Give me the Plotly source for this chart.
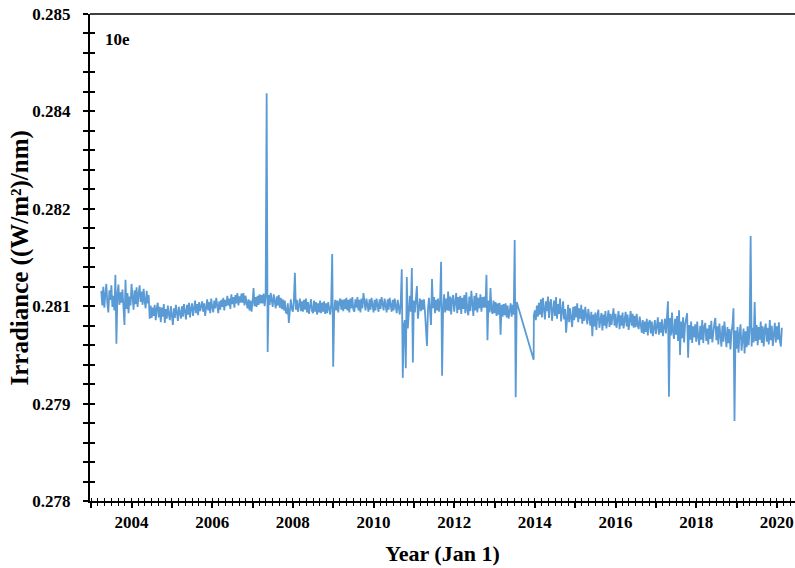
import numpy as np
import plotly.graph_objects as go

# Spectral irradiance at one wavelength, sampled every 0.025 yr (about 9 days)
SAMPLE_STEP = 0.025

# Run 1: 2003.25 .. 2013.55
run1_start = 2003.25
run1_irr = [
    0.28102, 0.28081, 0.28108, 0.28078, 0.28097, 0.28112, 0.28084, 0.28071, 0.28103, 0.28089,
    0.28110, 0.28079, 0.28095, 0.28074, 0.28125, 0.28026, 0.28098, 0.28111, 0.28082, 0.28100,
    0.28085, 0.28104, 0.28078, 0.28053, 0.28118, 0.28076, 0.28099, 0.28070, 0.28094, 0.28081,
    0.28112, 0.28088, 0.28075, 0.28103, 0.28083, 0.28107, 0.28079, 0.28097, 0.28110, 0.28086,
    0.28101, 0.28082, 0.28105, 0.28087, 0.28077, 0.28102, 0.28084, 0.28096, 0.28062, 0.28081,
    0.28063, 0.28078, 0.28066, 0.28082, 0.28060, 0.28077, 0.28085, 0.28064, 0.28079, 0.28057,
    0.28078, 0.28065, 0.28083, 0.28056, 0.28076, 0.28062, 0.28081, 0.28068, 0.28060, 0.28080,
    0.28064, 0.28053, 0.28077, 0.28063, 0.28082, 0.28067, 0.28059, 0.28079, 0.28069, 0.28062,
    0.28080, 0.28065, 0.28083, 0.28070, 0.28061, 0.28082, 0.28068, 0.28085, 0.28064, 0.28077,
    0.28084, 0.28066, 0.28080, 0.28088, 0.28070, 0.28083, 0.28067, 0.28086, 0.28073, 0.28082,
    0.28087, 0.28072, 0.28084, 0.28066, 0.28078, 0.28090, 0.28074, 0.28086, 0.28070, 0.28091,
    0.28079, 0.28071, 0.28088, 0.28077, 0.28092, 0.28080, 0.28070, 0.28087, 0.28075, 0.28089,
    0.28079, 0.28092, 0.28074, 0.28089, 0.28080, 0.28095, 0.28081, 0.28091, 0.28076, 0.28097,
    0.28083, 0.28093, 0.28078, 0.28096, 0.28084, 0.28099, 0.28081, 0.28094, 0.28085, 0.28098,
    0.28085, 0.28099, 0.28081, 0.28095, 0.28086, 0.28077, 0.28090, 0.28074, 0.28088, 0.28072,
    0.28086, 0.28106, 0.28080, 0.28093, 0.28079, 0.28095, 0.28082, 0.28097, 0.28084, 0.28096,
    0.28084, 0.28098, 0.28080, 0.28094, 0.28386, 0.28014, 0.28096, 0.28082, 0.28099, 0.28086,
    0.28079, 0.28097, 0.28085, 0.28077, 0.28094, 0.28081, 0.28096, 0.28078, 0.28092, 0.28076,
    0.28090, 0.28074, 0.28088, 0.28071, 0.28070, 0.28084, 0.28056, 0.28082, 0.28090, 0.28076,
    0.28072, 0.28088, 0.28128, 0.28075, 0.28089, 0.28072, 0.28086, 0.28091, 0.28073, 0.28087,
    0.28072, 0.28089, 0.28075, 0.28091, 0.28071, 0.28086, 0.28069, 0.28085, 0.28090, 0.28073,
    0.28070, 0.28088, 0.28072, 0.28086, 0.28068, 0.28084, 0.28071, 0.28088, 0.28070, 0.28085,
    0.28072, 0.28087, 0.28069, 0.28084, 0.28070, 0.28086, 0.28072, 0.28068, 0.28083, 0.28155,
    0.27993, 0.28073, 0.28089, 0.28074, 0.28088, 0.28071, 0.28086, 0.28091, 0.28075, 0.28089,
    0.28073, 0.28090, 0.28076, 0.28092, 0.28074, 0.28089, 0.28071, 0.28091, 0.28077, 0.28093,
    0.28075, 0.28072, 0.28090, 0.28078, 0.28093, 0.28074, 0.28089, 0.28071, 0.28091, 0.28077,
    0.28099, 0.28089, 0.28074, 0.28091, 0.28077, 0.28072, 0.28090, 0.28075, 0.28092, 0.28078,
    0.28071, 0.28089, 0.28074, 0.28091, 0.28077, 0.28072, 0.28090, 0.28076, 0.28093, 0.28078,
    0.28074, 0.28091, 0.28077, 0.28071, 0.28090, 0.28075, 0.28092, 0.28078, 0.28072, 0.28089,
    0.28074, 0.28091, 0.28077, 0.28070, 0.28089, 0.28074, 0.28068, 0.28086, 0.28133, 0.27977,
    0.28052, 0.28060, 0.27991, 0.28122, 0.28048, 0.28071, 0.28095, 0.28072, 0.28135, 0.27999,
    0.28088, 0.28071, 0.28090, 0.28109, 0.28062, 0.28076, 0.28091, 0.28073, 0.28089, 0.28075,
    0.28090, 0.28072, 0.28049, 0.28023, 0.28076, 0.28092, 0.28073, 0.28053, 0.28119, 0.28077,
    0.28093, 0.28070, 0.28089, 0.28074, 0.28091, 0.28072, 0.28088, 0.28144, 0.27980, 0.28076,
    0.28097, 0.28071, 0.28091, 0.28074, 0.28101, 0.28073, 0.28094, 0.28068, 0.28090, 0.28096,
    0.28072, 0.28089, 0.28099, 0.28070, 0.28093, 0.28075, 0.28095, 0.28069, 0.28092, 0.28076,
    0.28096, 0.28070, 0.28100, 0.28075, 0.28067, 0.28094, 0.28073, 0.28102, 0.28079, 0.28066,
    0.28095, 0.28074, 0.28099, 0.28071, 0.28092, 0.28077, 0.28097, 0.28072, 0.28093, 0.28078,
    0.28094, 0.28078, 0.28125, 0.28031, 0.28088, 0.28071, 0.28106, 0.28074, 0.28069, 0.28088,
    0.28070, 0.28086, 0.28066, 0.28084, 0.28068, 0.28085, 0.28039, 0.28082, 0.28065, 0.28083,
    0.28067, 0.28084, 0.28064, 0.28081, 0.28062, 0.28079, 0.28084, 0.28065, 0.28082, 0.28068,
    0.28175, 0.27949, 0.28086,
]

# Lone sample inside the late-2013 data gap
gap_year = [2013.97]
gap_irr = [0.28003]

# Run 2: 2013.975 .. 2020.125
run2_start = 2013.975
run2_irr = [
    0.28067, 0.28074, 0.28060, 0.28081, 0.28065, 0.28085, 0.28068, 0.28090, 0.28064, 0.28092,
    0.28071, 0.28061, 0.28087, 0.28073, 0.28094, 0.28063, 0.28084, 0.28090, 0.28059, 0.28080,
    0.28088, 0.28066, 0.28093, 0.28062, 0.28083, 0.28069, 0.28091, 0.28058, 0.28079, 0.28087,
    0.28061, 0.28076, 0.28042, 0.28066, 0.28082, 0.28057, 0.28077, 0.28063, 0.28050, 0.28079,
    0.28060, 0.28080, 0.28064, 0.28084, 0.28057, 0.28077, 0.28062, 0.28082, 0.28055, 0.28075,
    0.28059, 0.28079, 0.28063, 0.28054, 0.28076, 0.28058, 0.28052, 0.28072, 0.28037, 0.28068,
    0.28051, 0.28071, 0.28046, 0.28067, 0.28075, 0.28049, 0.28064, 0.28070, 0.28045, 0.28068,
    0.28052, 0.28073, 0.28048, 0.28066, 0.28074, 0.28050, 0.28069, 0.28053, 0.28072, 0.28077,
    0.28052, 0.28069, 0.28049, 0.28066, 0.28073, 0.28047, 0.28067, 0.28052, 0.28071, 0.28048,
    0.28065, 0.28072, 0.28051, 0.28068, 0.28046, 0.28066, 0.28073, 0.28052, 0.28069, 0.28049,
    0.28066, 0.28050, 0.28069, 0.28053, 0.28047, 0.28065, 0.28050, 0.28042, 0.28060, 0.28040,
    0.28058, 0.28043, 0.28062, 0.28038, 0.28056, 0.28060, 0.28041, 0.28058, 0.28037, 0.28055,
    0.28060, 0.28040, 0.28058, 0.28064, 0.28039, 0.28057, 0.28042, 0.28061, 0.28037, 0.28056,
    0.28062, 0.28041, 0.28059, 0.28087, 0.27950, 0.28063, 0.28038, 0.28071, 0.28043, 0.28033,
    0.28062, 0.28039, 0.28066, 0.28030, 0.28074, 0.28010, 0.28058, 0.28034, 0.28064, 0.28028,
    0.28054, 0.28060, 0.28070, 0.28006, 0.28053, 0.28032, 0.28058, 0.28027, 0.28051, 0.28035,
    0.28054, 0.28029, 0.28058, 0.28036, 0.28024, 0.28052, 0.28032, 0.28060, 0.28027, 0.28050,
    0.28056, 0.28030, 0.28048, 0.28025, 0.28053, 0.28033, 0.28059, 0.28028, 0.28049, 0.28055,
    0.28063, 0.28031, 0.28051, 0.28025, 0.28055, 0.28034, 0.28022, 0.28052, 0.28029, 0.28058,
    0.28032, 0.28021, 0.28050, 0.28027, 0.28047, 0.28018, 0.28043, 0.28053, 0.28077, 0.27915,
    0.28045, 0.28019, 0.28050, 0.28013, 0.28041, 0.28054, 0.28016, 0.28039, 0.28048, 0.28012,
    0.28044, 0.28021, 0.28051, 0.28024, 0.28046, 0.28181, 0.28022, 0.28049, 0.28028, 0.28086,
    0.28030, 0.28053, 0.28024, 0.28050, 0.28032, 0.28058, 0.28027, 0.28051, 0.28022, 0.28047,
    0.28055, 0.28029, 0.28049, 0.28025, 0.28060, 0.28031, 0.28052, 0.28023, 0.28048, 0.28056,
    0.28028, 0.28051, 0.28032, 0.28057, 0.28030, 0.28022, 0.28049,
]

# Axis ticks
year_ticks = list(range(2003, 2021))
year_labels = [str(y) if y % 2 == 0 else "" for y in year_ticks]
irr_ticks = [0.278, 0.2794, 0.2808, 0.2822, 0.2836, 0.285]
irr_labels = ["0.278", "0.279", "0.281", "0.282", "0.284", "0.285"]

run1_years = run1_start + SAMPLE_STEP * np.arange(len(run1_irr))
run2_years = run2_start + SAMPLE_STEP * np.arange(len(run2_irr))
years = np.concatenate([run1_years, gap_year, run2_years])
irr = np.concatenate([run1_irr, gap_irr, run2_irr])

X_RANGE = [2002.97, 2020.45]
Y_RANGE = [0.278, 0.285]
FONT = "Liberation Serif"

fig = go.Figure()
fig.add_trace(go.Scatter(
    x=years, y=irr, mode="lines",
    line=dict(color="#5B9BD5", width=1.8),
    showlegend=False, hoverinfo="x+y",
))
# empty trace that carries the overlaid axes (inner half of the crossing ticks)
fig.add_trace(go.Scatter(x=[], y=[], xaxis="x2", yaxis="y2", showlegend=False))

tick_font = dict(family=FONT, size=17, color="black", weight="bold")

fig.update_layout(
    width=795, height=568,
    margin=dict(l=90, r=0, t=14, b=67),
    paper_bgcolor="white", plot_bgcolor="white",
    font=dict(family=FONT, color="black"),
    xaxis=dict(
        range=X_RANGE, tickmode="array", tickvals=year_ticks, ticktext=year_labels,
        ticks="outside", ticklen=5, tickwidth=1.5, tickcolor="black",
        minor=dict(tickmode="linear", tick0=2003, dtick=1 / 6, ticks="outside",
                   ticklen=3, tickwidth=1.3, tickcolor="black"),
        showline=True, linecolor="black", linewidth=2,
        showgrid=False, zeroline=False, tickfont=tick_font,
        title=dict(text="Year (Jan 1)", font=dict(family=FONT, size=22, weight="bold"),
                   standoff=14),
    ),
    xaxis2=dict(
        range=X_RANGE, overlaying="x", anchor="y2", tickmode="array",
        tickvals=year_ticks, ticktext=["" for _ in year_ticks],
        ticks="inside", ticklen=4, tickwidth=1.5, tickcolor="black",
        minor=dict(tickmode="linear", tick0=2003, dtick=1 / 6, ticks="inside",
                   ticklen=3, tickwidth=1.3, tickcolor="black"),
        showline=False, showgrid=False, zeroline=False, showticklabels=False,
    ),
    yaxis=dict(
        range=Y_RANGE, tickmode="array", tickvals=irr_ticks, ticktext=irr_labels,
        ticks="outside", ticklen=5, tickwidth=1.5, tickcolor="black",
        minor=dict(tickmode="linear", tick0=0.278, dtick=0.00028, ticks="outside",
                   ticklen=5, tickwidth=1.5, tickcolor="black"),
        showline=True, linecolor="black", linewidth=2,
        showgrid=False, zeroline=False, tickfont=tick_font, ticklabelstandoff=9,
    ),
    yaxis2=dict(
        range=Y_RANGE, overlaying="y", anchor="x2", tickmode="array",
        tickvals=irr_ticks, ticktext=["" for _ in irr_ticks],
        ticks="inside", ticklen=5, tickwidth=1.5, tickcolor="black",
        minor=dict(tickmode="linear", tick0=0.278, dtick=0.00028, ticks="inside",
                   ticklen=5, tickwidth=1.5, tickcolor="black"),
        showline=False, showgrid=False, zeroline=False, showticklabels=False,
    ),
    shapes=[dict(type="line", xref="paper", yref="paper", x0=0, x1=1, y0=1, y1=1,
                 line=dict(color="#404040", width=2))],
    annotations=[
        dict(text="10e", xref="paper", yref="paper", x=0.019, y=0.948,
             xanchor="left", yanchor="middle", showarrow=False,
             font=dict(family=FONT, size=17, color="black", weight="bold")),
        # vertical axis title
        dict(text="Irradiance ((W/m²)/nm)", xref="paper", yref="paper",
             x=-0.0993, y=0.5, xanchor="center", yanchor="middle", textangle=-90,
             showarrow=False,
             font=dict(family=FONT, size=25, color="black", weight="bold")),
    ],
)

fig.write_html("out.html")
